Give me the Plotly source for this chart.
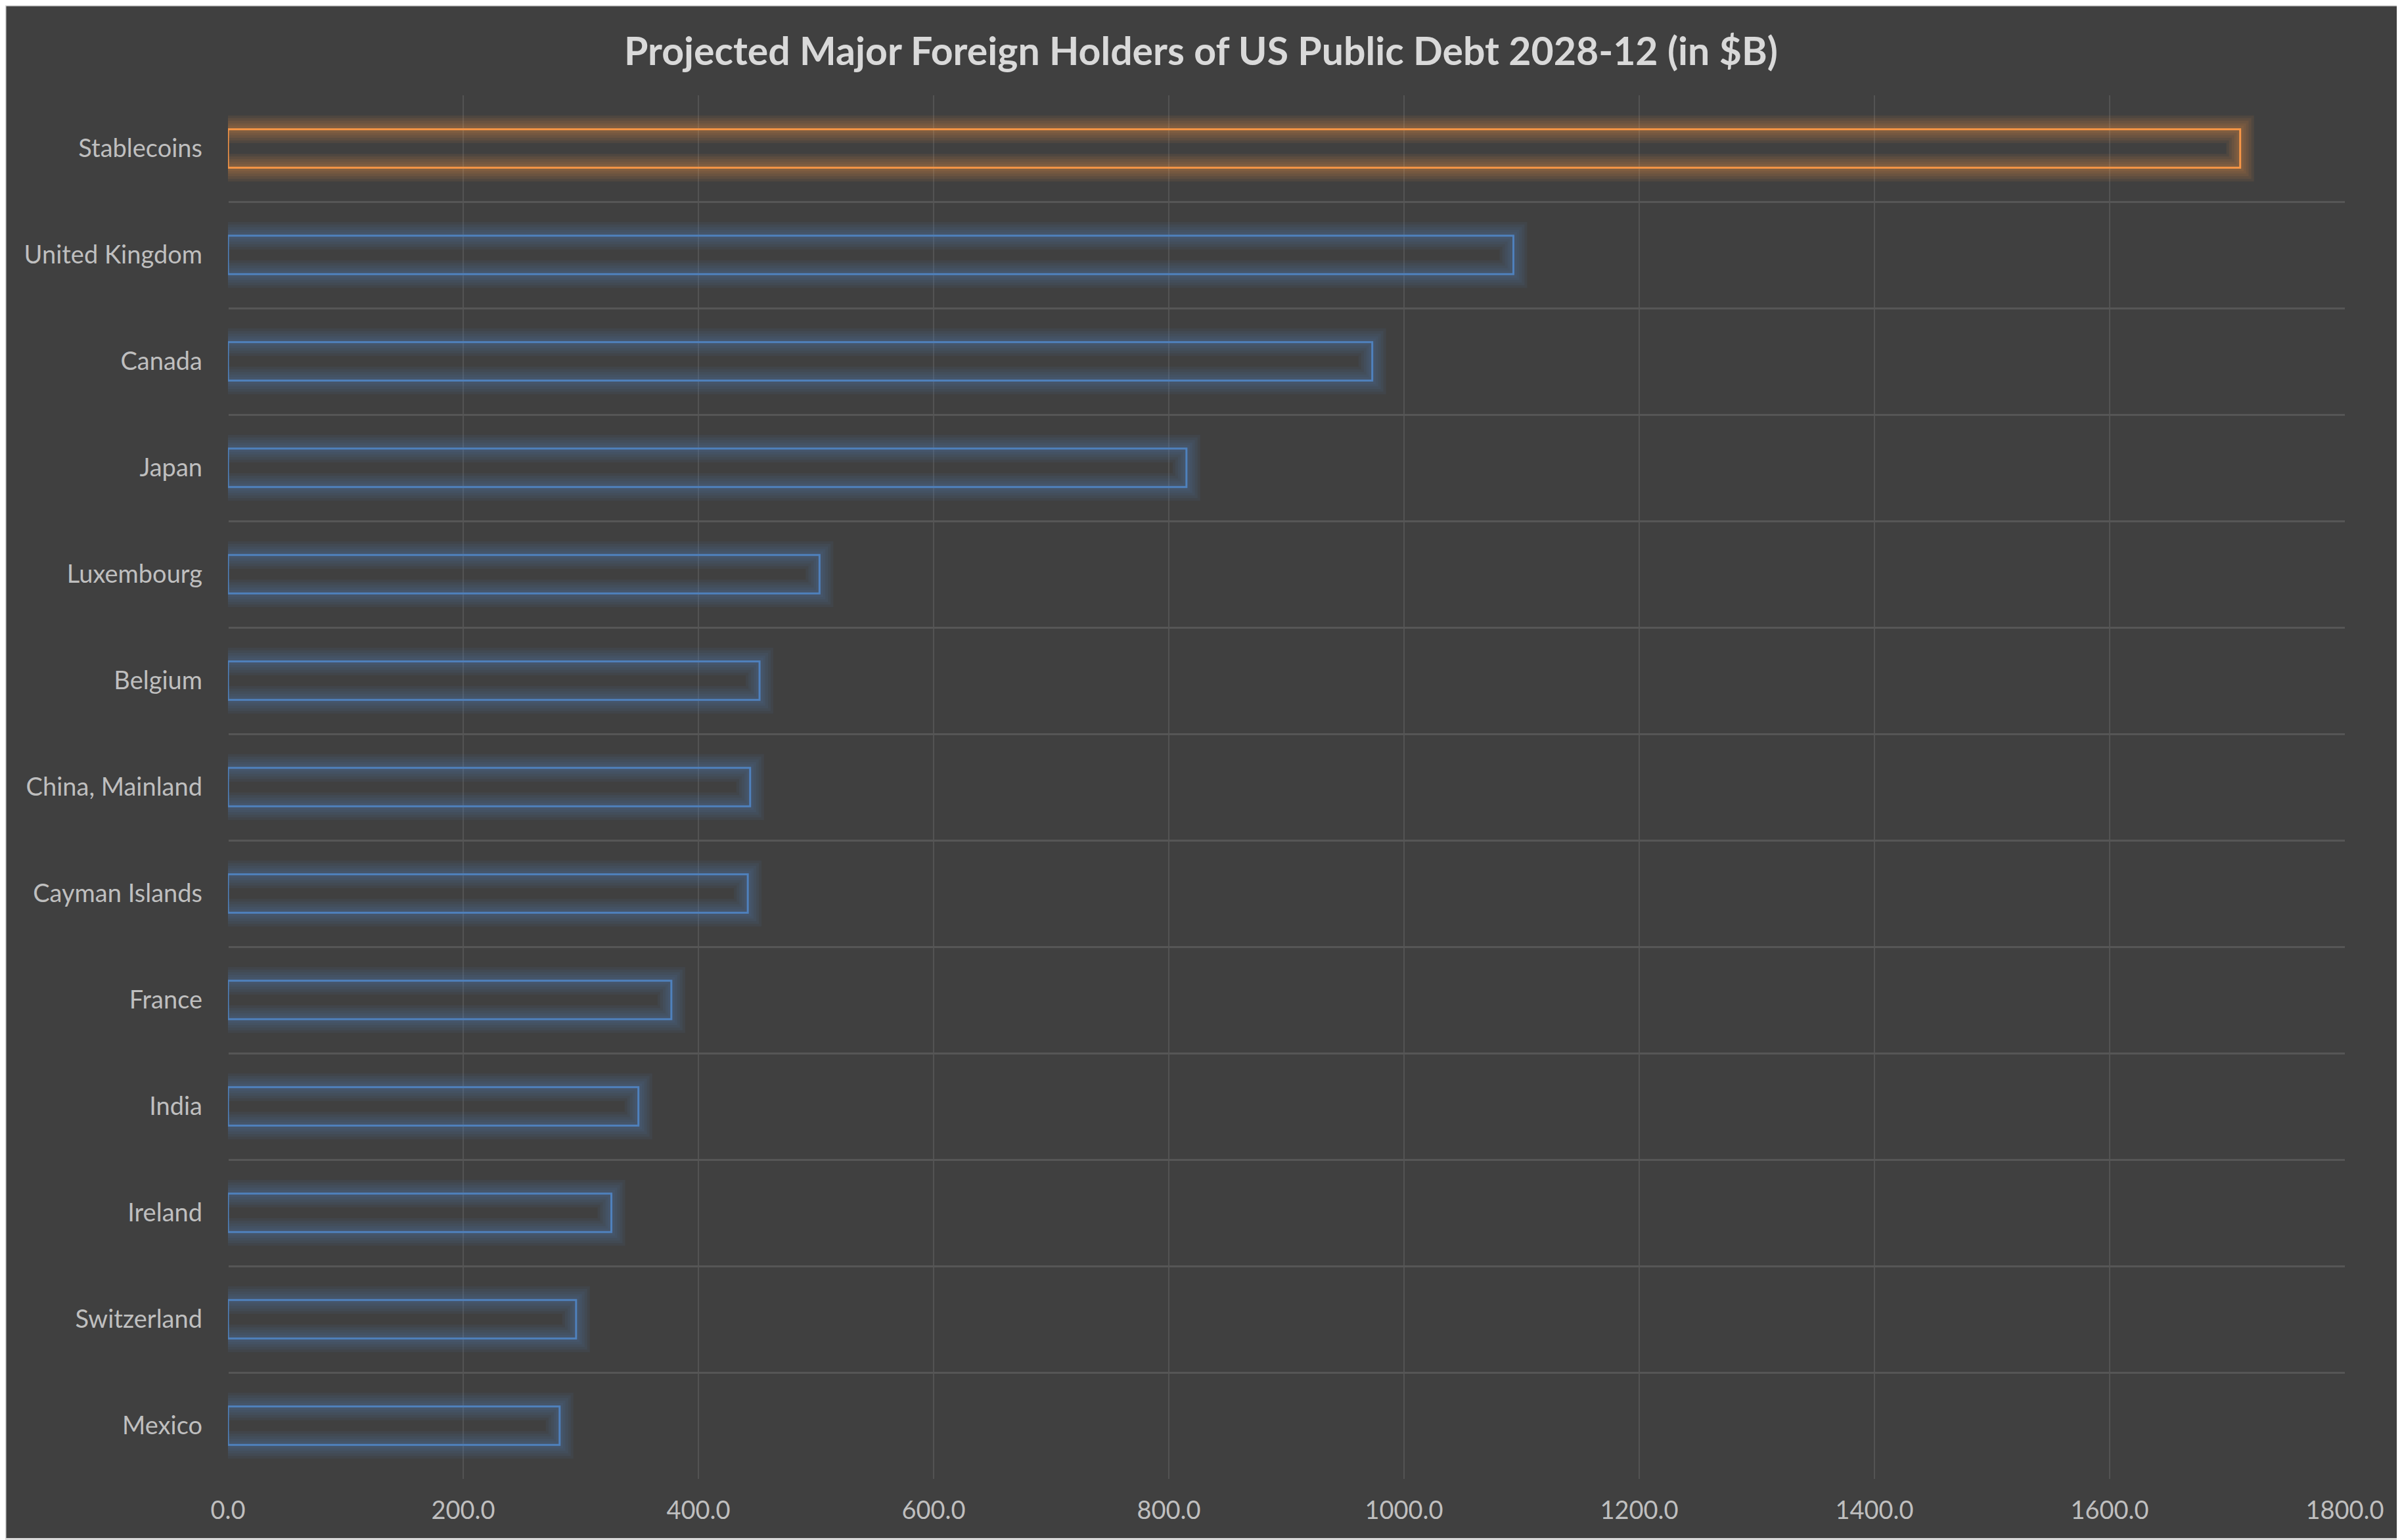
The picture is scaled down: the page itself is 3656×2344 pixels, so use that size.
import plotly.graph_objects as go

categories = ["Stablecoins", "United Kingdom", "Canada", "Japan", "Luxembourg", "Belgium",
              "China, Mainland", "Cayman Islands", "France", "India", "Ireland",
              "Switzerland", "Mexico"]
values = [1711, 1093, 973, 815, 503, 452, 444, 442, 377, 349, 326, 296, 282]
highlight = ["Stablecoins"]

ORANGE = (247, 150, 70)
BLUE = (79, 129, 189)
BG = "#404040"

# page has an 8px body margin; compensate so the chart lands where the reference has it
OFF = 8
W, H = 3656 - OFF, 2344 - OFF
ML, MR, MT, MB = 347 - OFF, 87, 145 - OFF, 93

def rgba(c, a):
    return "rgba(%d,%d,%d,%.3f)" % (c[0], c[1], c[2], a)

base_cols = [ORANGE if c in highlight else BLUE for c in categories]

# glow bars start left of the axis so their left edge is clipped away
GLOW_PAD = 40
glow_base = [-GLOW_PAD] * len(values)
glow_len = [v + GLOW_PAD for v in values]

fig = go.Figure()
for lw in [42, 34, 26, 18, 11]:
    fig.add_trace(go.Bar(
        x=glow_len, base=glow_base, y=categories, orientation="h", width=0.36,
        marker=dict(color="rgba(0,0,0,0)",
                    line=dict(color=[rgba(c, 0.085) for c in base_cols], width=lw)),
        hoverinfo="skip", showlegend=False))
# main outline
fig.add_trace(go.Bar(
    x=values, y=categories, orientation="h", width=0.36,
    marker=dict(color="rgba(0,0,0,0)",
                line=dict(color=[rgba(c, 1.0) for c in base_cols], width=3)),
    showlegend=False))

pw = W - ML - MR
ph = H - MT - MB
fig.add_shape(type="rect", xref="paper", yref="paper",
              x0=-ML / pw, x1=1 + (MR - 1.5) / pw,
              y0=-(MB - 1.5) / ph, y1=1 + MT / ph,
              line=dict(color="#D9D9D9", width=3), fillcolor="rgba(0,0,0,0)", layer="below")

fig.update_layout(
    width=W, height=H,
    margin=dict(l=ML, r=MR, t=MT, b=MB),
    paper_bgcolor=BG, plot_bgcolor=BG,
    barmode="overlay",
    title=dict(text="<b>Projected Major Foreign Holders of US Public Debt 2028-12 (in $B)</b>",
               x=(1828 - OFF) / W, xanchor="center", xref="container",
               y=1 - (78 - OFF) / H, yanchor="middle", yref="container",
               font=dict(family="Lato", size=59, color="#D9D9D9")),
    font=dict(family="Lato", color="#BFBFBF"),
    xaxis=dict(range=[0, 1800], dtick=200, tick0=0, tickformat=".1f",
               showgrid=True, gridcolor="#535353", gridwidth=2,
               zeroline=True, zerolinecolor=BG, zerolinewidth=2,
               showline=False, ticks="",
               tickfont=dict(family="Lato", size=38, color="#BFBFBF"),
               ticklabelstandoff=22),
    yaxis=dict(type="category", autorange="reversed", tickson="boundaries",
               showgrid=True, gridcolor="#565656", gridwidth=3,
               showline=False, ticks="", zeroline=False,
               tickfont=dict(family="Lato", size=38, color="#BFBFBF"),
               ticklabelstandoff=38),
)

fig.write_html("out.html")
